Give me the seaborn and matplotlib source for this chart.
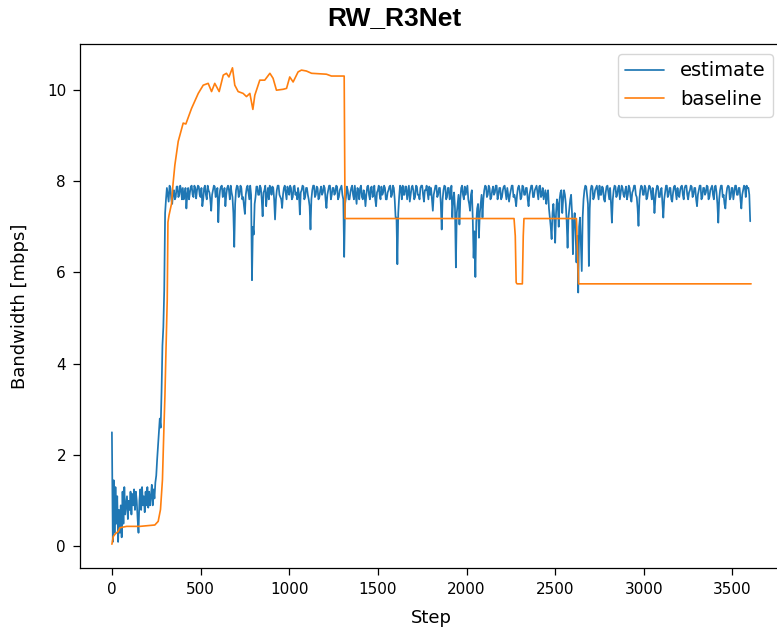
import numpy as np
import pandas as pd
import matplotlib
matplotlib.use("Agg")
import matplotlib.pyplot as plt
import seaborn as sns

# ---------------- data ----------------
TITLE = "RW_R3Net"
X_LABEL = "Step"
Y_LABEL = "Bandwidth [mbps]"
SERIES_NAMES = ["estimate", "baseline"]

# estimate: one value every 5 steps, 0 .. 3600 (one row = 100 steps)
estimate_values = [
    2.5, 0.1, 1.45, 0.3, 1.3, 0.5, 1.1, 0.1, 0.8, 0.3, 0.9, 0.2, 1.2, 0.5, 1.3, 0.7, 0.9, 1.1, 0.6, 1.0,
    0.8, 1.2, 0.7, 1.15, 0.9, 1.25, 0.8, 1.2, 1.0, 0.6, 0.3, 1.0, 1.25, 0.8, 1.3, 0.9, 1.1, 0.75, 1.2, 0.9,
    1.3, 0.85, 1.2, 0.9, 1.1, 1.35, 0.9, 1.25, 1.05, 1.4, 1.55, 1.9, 2.2, 2.5, 2.8, 2.6, 3.4, 4.4, 4.8, 5.6,
    7.3, 7.6, 7.85, 7.7, 7.55, 7.9, 7.85, 7.6, 7.5, 7.75, 7.8, 7.6, 7.65, 7.88, 7.88, 7.65, 7.7, 7.9, 7.82, 7.6,
    7.85, 7.6, 7.7, 7.85, 7.4, 7.7, 7.85, 7.6, 7.75, 7.88, 7.9, 7.7, 7.65, 7.9, 7.85, 7.62, 7.8, 7.9, 7.88, 7.7,
    7.65, 7.85, 7.45, 7.6, 7.85, 7.9, 7.7, 7.6, 7.9, 7.8, 7.75, 7.6, 7.35, 7.7, 7.8, 7.9, 7.88, 7.65, 7.7, 7.85,
    7.1, 7.6, 7.8, 7.88, 7.9, 7.65, 7.7, 7.85, 7.45, 7.7, 7.85, 7.9, 7.8, 7.6, 7.9, 7.75, 7.65, 7.3, 6.56, 7.5,
    7.8, 7.9, 7.88, 7.65, 7.7, 7.9, 7.85, 7.6, 7.65, 7.45, 7.28, 7.7, 7.85, 7.9, 7.75, 7.6, 7.9, 7.7, 5.83, 7.0,
    6.83, 7.5, 7.65, 7.88, 7.88, 7.7, 7.7, 7.9, 7.85, 7.6, 7.23, 7.75, 7.8, 7.9, 7.45, 7.7, 7.85, 7.6, 7.9, 7.85,
    7.7, 7.88, 7.85, 7.6, 7.16, 7.6, 7.8, 7.9, 7.9, 7.7, 7.65, 7.6, 7.41, 7.7, 7.85, 7.9, 7.75, 7.6, 7.88, 7.8,
    7.7, 7.9, 7.85, 7.6, 7.65, 7.88, 7.9, 7.7, 7.75, 7.6, 7.85, 7.7, 7.27, 7.75, 7.8, 7.9, 7.88, 7.6, 7.65, 7.85,
    7.85, 7.7, 7.6, 7.45, 6.94, 7.6, 7.8, 7.9, 7.9, 7.65, 7.7, 7.88, 7.85, 7.6, 7.65, 7.8, 7.88, 7.7, 7.75, 7.9,
    7.85, 7.6, 7.41, 7.7, 7.8, 7.9, 7.9, 7.6, 7.7, 7.85, 7.85, 7.7, 7.75, 7.9, 7.88, 7.6, 7.65, 7.8, 7.85, 7.9,
    7.7, 7.6, 6.34, 7.5, 7.65, 7.88, 7.8, 7.6, 7.6, 7.75, 7.85, 7.9, 7.7, 7.6, 7.9, 7.7, 7.5, 7.85, 7.8, 7.6,
    7.85, 7.9, 7.65, 7.6, 7.8, 7.7, 7.45, 7.7, 7.88, 7.9, 7.7, 7.6, 7.85, 7.88, 7.65, 7.7, 7.9, 7.6, 7.45, 7.75,
    7.8, 7.9, 7.7, 7.6, 7.88, 7.7, 7.75, 7.9, 7.85, 7.6, 7.6, 7.75, 7.8, 7.88, 7.9, 7.65, 7.7, 7.9, 7.85, 7.6,
    7.2, 7.2, 6.18, 7.3, 7.65, 7.9, 7.85, 7.6, 7.9, 7.7, 7.7, 7.88, 7.88, 7.6, 7.75, 7.9, 7.55, 7.7, 7.85, 7.9,
    7.8, 7.6, 7.65, 7.9, 7.88, 7.7, 7.7, 7.6, 7.85, 7.9, 7.9, 7.7, 7.55, 7.8, 7.8, 7.9, 7.75, 7.6, 7.88, 7.7,
    7.85, 7.6, 7.35, 7.7, 7.8, 7.9, 7.9, 7.65, 7.7, 7.85, 7.85, 7.5, 6.94, 7.6, 7.8, 7.9, 7.88, 7.6, 7.65, 7.85,
    7.85, 7.6, 7.7, 7.9, 7.2, 7.6, 7.75, 7.4, 6.11, 7.3, 7.5, 7.7, 7.05, 7.6, 7.85, 7.9, 7.7, 7.6, 7.88, 7.7,
    7.8, 7.9, 7.6, 7.5, 7.35, 7.7, 7.8, 7.2, 6.32, 6.9, 5.9, 7.1, 7.4, 7.5, 6.76, 7.3, 7.5, 7.7, 7.2, 7.6,
    7.8, 7.9, 7.88, 7.65, 7.7, 7.9, 7.85, 7.6, 7.65, 7.8, 7.88, 7.7, 7.75, 7.9, 7.9, 7.6, 7.7, 7.85, 7.85, 7.6,
    7.65, 7.8, 7.88, 7.9, 7.75, 7.6, 7.85, 7.7, 7.55, 7.7, 7.8, 7.9, 7.9, 7.65, 7.7, 7.6, 7.45, 7.7, 7.85, 7.9,
    7.8, 7.6, 7.65, 7.9, 7.88, 7.7, 7.7, 7.85, 7.85, 7.6, 7.45, 7.7, 7.8, 7.9, 7.9, 7.65, 7.65, 7.8, 7.85, 7.9,
    7.75, 7.6, 7.88, 7.9, 7.65, 7.7, 7.85, 7.6, 7.7, 7.8, 7.5, 7.7, 7.8, 7.4, 7.2, 7.0, 6.73, 7.3, 7.5, 7.2,
    6.65, 7.3, 7.6, 7.5, 7.0, 7.6, 7.75, 7.8, 7.3, 7.6, 7.8, 7.7, 7.5, 7.1, 6.54, 7.2, 7.4, 7.6, 7.7, 7.3,
    6.4, 7.1, 7.3, 6.9, 6.22, 6.8, 5.56, 7.0, 7.2, 6.6, 6.03, 7.2, 7.6, 7.8, 7.9, 7.88, 7.7, 7.5, 6.14, 7.4,
    7.8, 7.9, 7.88, 7.6, 7.65, 7.8, 7.85, 7.9, 7.75, 7.6, 7.9, 7.7, 7.7, 7.88, 7.85, 7.6, 7.55, 7.75, 7.88, 7.9,
    7.75, 7.6, 7.85, 7.5, 7.09, 7.6, 7.8, 7.9, 7.88, 7.65, 7.7, 7.85, 7.9, 7.6, 7.75, 7.9, 7.85, 7.7, 7.65, 7.8,
    7.88, 7.6, 7.7, 7.9, 7.85, 7.65, 7.55, 7.75, 7.8, 7.9, 7.9, 7.7, 7.65, 7.4, 7.02, 7.6, 7.8, 7.9, 7.88, 7.7,
    7.7, 7.9, 7.85, 7.6, 7.65, 7.8, 7.9, 7.88, 7.75, 7.6, 7.85, 7.7, 7.3, 7.6, 7.8, 7.9, 7.88, 7.65, 7.65, 7.8,
    7.85, 7.5, 7.2, 7.6, 7.75, 7.9, 7.9, 7.65, 7.7, 7.85, 7.85, 7.6, 7.55, 7.75, 7.88, 7.9, 7.75, 7.6, 7.85, 7.7,
    7.65, 7.8, 7.88, 7.9, 7.7, 7.6, 7.85, 7.9, 7.9, 7.7, 7.6, 7.75, 7.8, 7.9, 7.88, 7.65, 7.7, 7.85, 7.85, 7.6,
    7.45, 7.7, 7.8, 7.9, 7.9, 7.6, 7.65, 7.85, 7.85, 7.7, 7.75, 7.9, 7.88, 7.6, 7.65, 7.8, 7.85, 7.9, 7.7, 7.6,
    7.88, 7.9, 7.75, 7.5, 7.09, 7.6, 7.8, 7.9, 7.9, 7.65, 7.7, 7.5, 7.4, 7.7, 7.85, 7.9, 7.88, 7.6, 7.65, 7.85,
    7.85, 7.6, 7.75, 7.9, 7.9, 7.7, 7.7, 7.85, 7.85, 7.6, 7.4, 7.7, 7.8, 7.9, 7.88, 7.65, 7.9, 7.85, 7.85, 7.7,
    7.12,
]
estimate_steps = list(range(0, 5 * len(estimate_values), 5))

# baseline: breakpoints
baseline_steps = [
    0, 8, 20, 36, 45, 83, 158, 242, 261, 274, 285, 293, 299, 305, 312, 316, 322, 336, 345, 355,
    374, 402, 417, 449, 487, 515, 543, 562, 580, 605, 628, 646, 660, 680, 693, 712, 740, 759, 778, 795,
    806, 834, 862, 891, 909, 928, 966, 985, 1003, 1022, 1050, 1069, 1097, 1126, 1210, 1238, 1310, 1315,
    2268, 2275, 2280, 2285, 2315, 2320, 2324, 2620, 2632, 3605,
]
baseline_values = [
    0.05, 0.22, 0.28, 0.33, 0.41, 0.44, 0.44, 0.47, 0.55, 0.81, 1.46, 2.55, 3.3, 4.3, 5.4, 7.1, 7.25, 7.5, 7.95, 8.35,
    8.87, 9.27, 9.25, 9.59, 9.92, 10.1, 10.14, 9.96, 10.14, 9.96, 10.32, 10.36, 10.28, 10.48, 10.1, 9.96, 9.92, 9.85, 9.92, 9.57,
    9.88, 10.21, 10.21, 10.36, 10.25, 9.99, 10.01, 10.03, 10.28, 10.17, 10.39, 10.43, 10.41, 10.36, 10.34, 10.30, 10.30, 7.18,
    7.18, 6.8, 5.78, 5.75, 5.75, 6.8, 7.18, 7.18, 5.75, 5.75,
]

X_TICKS = [0, 500, 1000, 1500, 2000, 2500, 3000, 3500]
Y_TICKS = [0, 2, 4, 6, 8, 10]
COLORS = ["#1f77b4", "#ff7f0e"]

# ---------------- plot ----------------
sns.set_style("ticks")
plt.rcParams.update({
    "font.family": ["DejaVu Sans"],
    "axes.edgecolor": "black",
    "axes.linewidth": 0.9,
    "text.color": "black",
    "axes.labelcolor": "black",
    "xtick.color": "black",
    "ytick.color": "black",
})

df_est = pd.DataFrame({"step": estimate_steps, "value": estimate_values})
df_base = pd.DataFrame({"step": baseline_steps, "value": baseline_values})

fig = plt.figure(figsize=(7.77, 6.34), dpi=100)
ax = fig.add_axes([80 / 777, 1 - 568 / 634, 703 / 777, 524 / 634])

sns.lineplot(data=df_est, x="step", y="value", ax=ax, color=COLORS[0],
             linewidth=1.25, estimator=None, sort=False, label=SERIES_NAMES[0])
sns.lineplot(data=df_base, x="step", y="value", ax=ax, color=COLORS[1],
             linewidth=1.2, estimator=None, sort=False, label=SERIES_NAMES[1])

ax.set_xlim(-180, 3785)
ax.set_xticks(X_TICKS)
ax.set_yticks(Y_TICKS)
ax.tick_params(axis="both", labelsize=11, length=5, width=0.9, direction="out", pad=5)
ax.set_xlabel(X_LABEL, fontsize=13, labelpad=9)
ax.set_ylabel(Y_LABEL, fontsize=13, labelpad=13)
for s in ["top", "left", "bottom", "right"]:
    ax.spines[s].set_visible(True)
    ax.spines[s].set_color("black")

ax.legend(loc="upper right", fontsize=14, frameon=True, fancybox=True,
          framealpha=0.8, edgecolor="#cccccc")

fig.text(394.5 / 777, 1 - 18 / 634, TITLE, ha="center", va="center",
         fontsize=19, fontweight="bold", family=["Liberation Sans", "DejaVu Sans"])

fig.savefig("out.png", dpi=100)
